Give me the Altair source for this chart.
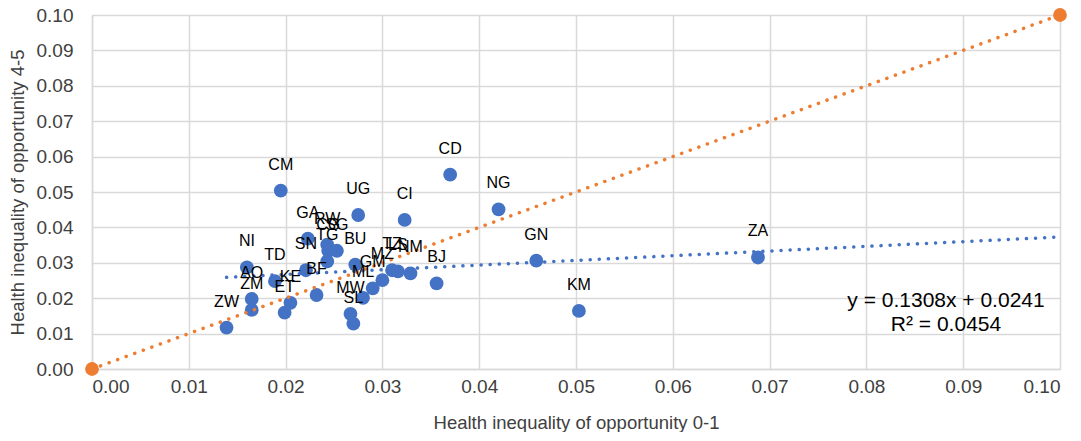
import altair as alt
import pandas as pd

# ---- data ----
codes = ["ZW", "AO", "ZM", "NI", "TD", "KE", "ET", "CM", "BF", "SN", "GA", "RW",
         "CG", "SG", "TG", "BU", "UG", "ML", "MW", "SL", "GM", "MZ", "TZ", "LS",
         "NM", "BJ", "CI", "CD", "NG", "GN", "KM", "ZA"]
ineq_01 = [0.0139, 0.0165, 0.0165, 0.0160, 0.0189, 0.0205, 0.0199, 0.0195, 0.0232, 0.0221,
           0.0223, 0.0243, 0.0244, 0.0253, 0.0243, 0.0272, 0.0275, 0.0280, 0.0267, 0.0270,
           0.0290, 0.0300, 0.0310, 0.0316, 0.0329, 0.0356, 0.0323, 0.0370, 0.0420, 0.0459,
           0.0503, 0.0688]
ineq_45 = [0.0117, 0.0198, 0.0167, 0.0287, 0.0248, 0.0187, 0.0159, 0.0504, 0.0209, 0.0279,
           0.0368, 0.0351, 0.0334, 0.0334, 0.0304, 0.0295, 0.0435, 0.0201, 0.0156, 0.0128,
           0.0228, 0.0251, 0.0279, 0.0276, 0.0270, 0.0242, 0.0421, 0.0549, 0.0451, 0.0306,
           0.0164, 0.0315]
ref_x = [0.0, 0.10]
ref_y = [0.0, 0.10]
trend_x = [0.0139, 0.10]
trend_y = [0.0259, 0.0373]
tick_values = [0.00, 0.01, 0.02, 0.03, 0.04, 0.05, 0.06, 0.07, 0.08, 0.09, 0.10]
eq_line1 = "y = 0.1308x + 0.0241"
eq_line2 = "R² = 0.0454"

pts = pd.DataFrame({"code": codes, "x": ineq_01, "y": ineq_45})
ref = pd.DataFrame({"x": ref_x, "y": ref_y})
trend = pd.DataFrame({"x": trend_x, "y": trend_y})

FONT = "Liberation Sans"
BLUE = "#4472C4"
ORANGE = "#ED7D31"
GRID = "#d9d9d9"
TXT = "#404040"

xs = alt.Scale(domain=[0, 0.1], nice=False, zero=False)
ys = alt.Scale(domain=[0, 0.1], nice=False, zero=False)

x_axis = alt.Axis(values=tick_values, tickCount=11, format=".2f", grid=True, gridColor=GRID,
                  gridWidth=1.5, domainColor=GRID, domainWidth=1.5, ticks=False, labelPadding=8,
                  labelOverlap=False, labelFontSize=19, labelFont=FONT, labelColor=TXT,
                  title="Health inequality of opportunity 0-1", titleFont=FONT,
                  titleFontSize=18.5, titleFontWeight="normal", titleColor=TXT, titlePadding=17)
y_axis = alt.Axis(values=tick_values, tickCount=11, format=".2f", grid=True, gridColor=GRID,
                  gridWidth=1.5, domainColor=GRID, domainWidth=1.5, ticks=False, labelPadding=19,
                  labelOverlap=False, labelFontSize=19, labelFont=FONT, labelColor=TXT,
                  title="Health inequality of opportunity 4-5", titleFont=FONT,
                  titleFontSize=18.5, titleFontWeight="normal", titleColor=TXT, titlePadding=9)

X = alt.X("x:Q", scale=xs, axis=x_axis)
Y = alt.Y("y:Q", scale=ys, axis=y_axis)

base_pts = alt.Chart(pts)

points = base_pts.mark_circle(size=190, opacity=1, color=BLUE).encode(x=X, y=Y)

labels = base_pts.mark_text(font=FONT, fontSize=16, color="#000000", dy=-26).encode(
    x=X, y=Y, text="code:N"
)

ref_line = alt.Chart(ref).mark_line(color=ORANGE, strokeWidth=3.5, strokeDash=[0.1, 9],
                                    strokeCap="round").encode(x=X, y=Y)
ref_pts = alt.Chart(ref).mark_circle(size=190, opacity=1, color=ORANGE).encode(x=X, y=Y)
trend_line = alt.Chart(trend).mark_line(color=BLUE, strokeWidth=3.5, strokeDash=[0.1, 9],
                                        strokeCap="round").encode(x=X, y=Y)

eq1 = alt.Chart(pd.DataFrame({"t": [eq_line1]})).mark_text(
    font=FONT, fontSize=21, color="#000000", align="center").encode(
    x=alt.value(854), y=alt.value(286), text="t:N")
eq2 = alt.Chart(pd.DataFrame({"t": [eq_line2]})).mark_text(
    font=FONT, fontSize=21, color="#000000", align="center").encode(
    x=alt.value(854), y=alt.value(310), text="t:N")

chart = alt.layer(points, ref_line, trend_line, ref_pts, labels, eq1, eq2).properties(
    width=968, height=354,
    autosize=alt.AutoSizeParams(type="none"),
    padding={"left": 84, "top": 7, "right": 12, "bottom": 63},
).configure_view(stroke=None).configure(background="white")

chart.save("out.html", embed_options={"renderer": "svg", "actions": False})
